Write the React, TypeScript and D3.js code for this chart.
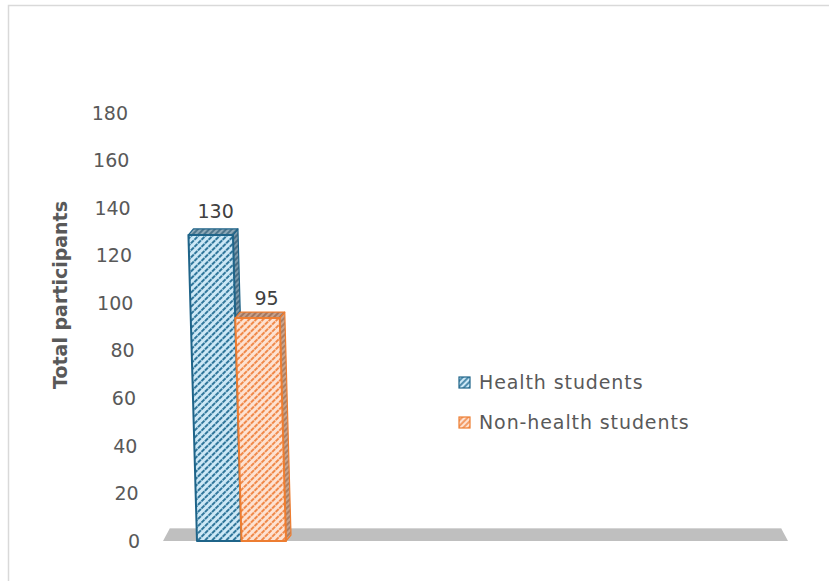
import React from "react";
import * as d3 from "d3";

const seriesNames = ["Health students", "Non-health students"];
const seriesValues = [130, 95];
const yTicks = [0, 20, 40, 60, 80, 100, 120, 140, 160, 180];
const yTitle = "Total participants";

const FONT = "'DejaVu Sans', sans-serif";
const W = 829;
const H = 581;
const Y0 = 541;
const K = 0.028; // perspective slant
const DX = 5;
const DY = -6;

const colors = [
  { bg: "#cde8f6", line: "#1f6a91", edge: "#1f6489", sideBg: "#7e9aab", sideLine: "#2a536b", topBg: "#8fa9b8", topLine: "#2b5a74" },
  { bg: "#fde2d2", line: "#ef7f3a", edge: "#ed7d31", sideBg: "#c8a590", sideLine: "#9a6a4d", topBg: "#c4a08b", topLine: "#8e6049" },
];

export default function App() {
  const y = d3.scaleLinear().domain([0, 180]).range([Y0, 113]);
  const x = d3.scaleBand<string>().domain(seriesNames).range([197, 286]).padding(0);
  const plotLeft = 163;
  const plotRight = 788;
  const sk = (px: number, py: number) => px - K * (Y0 - py);
  const pt = (px: number, py: number) => `${sk(px, py)},${py}`;
  const pts = (arr: [number, number][]) => arr.map(([a, b]) => `${a},${b}`).join(" ");

  const floorTop = y(0) - 13;
  const floor: [number, number][] = [
    [plotLeft, y(0)],
    [plotRight, y(0)],
    [plotRight - 7, floorTop],
    [plotLeft + 7, floorTop],
  ];

  return (
    <svg
      width={W}
      height={H}
      style={{ position: "absolute", left: 0, top: 0, background: "#fff", display: "block" }}
    >
      <defs>
        {colors.map((c, i) => (
          <React.Fragment key={i}>
            <pattern id={`front${i}`} width={5} height={5} patternUnits="userSpaceOnUse" patternTransform="rotate(45)">
              <rect width={5} height={5} fill={c.bg} />
              <line x1={2} y1={0} x2={2} y2={5} stroke={c.line} strokeWidth={1.8} strokeDasharray="2.2 0.8" />
            </pattern>
            <pattern id={`side${i}`} width={4} height={4} patternUnits="userSpaceOnUse" patternTransform="rotate(45)">
              <rect width={4} height={4} fill={c.sideBg} />
              <line x1={2} y1={0} x2={2} y2={4} stroke={c.sideLine} strokeWidth={1.3} />
            </pattern>
            <pattern id={`top${i}`} width={4} height={4} patternUnits="userSpaceOnUse" patternTransform="rotate(45)">
              <rect width={4} height={4} fill={c.topBg} />
              <line x1={2} y1={0} x2={2} y2={4} stroke={c.topLine} strokeWidth={1.3} />
            </pattern>
            <pattern id={`leg${i}`} width={4} height={4} patternUnits="userSpaceOnUse" patternTransform="rotate(45)">
              <rect width={4} height={4} fill={c.bg} />
              <line x1={2} y1={0} x2={2} y2={4} stroke={c.line} strokeWidth={1.4} />
            </pattern>
          </React.Fragment>
        ))}
      </defs>

      {/* chart border */}
      <rect x={8.5} y={5.5} width={1000} height={1000} fill="none" stroke="#d9d9d9" strokeWidth={1.5} />

      {/* y tick labels */}
      {yTicks.map((t) => (
        <text
          key={t}
          x={sk(140, y(t))}
          y={y(t)}
          dy="0.35em"
          textAnchor="end"
          fontFamily={FONT}
          fontSize={19}
          fill="#595959"
        >
          {t}
        </text>
      ))}

      {/* y title */}
      <text
        transform={`translate(67,295) rotate(-90)`}
        textAnchor="middle"
        fontFamily={FONT}
        fontSize={19}
        fontWeight="bold"
        fill="#595959"
      >
        {yTitle}
      </text>

      {/* floor */}
      <polygon points={pts(floor)} fill="#bfbfbf" />
      <line x1={plotLeft + 7} x2={plotRight - 7} y1={floorTop + 0.5} y2={floorTop + 0.5} stroke="#d4d4d4" strokeWidth={1} />

      {/* bars */}
      {seriesNames.map((s, i) => {
        const v = seriesValues[i];
        const x0 = x(s)!;
        const x1 = x0 + x.bandwidth();
        const yt = y(v) + 3;
        const yb = y(0);
        const c = colors[i];
        const front = `${pt(x0, yb)} ${pt(x1, yb)} ${pt(x1, yt)} ${pt(x0, yt)}`;
        const top = `${pt(x0, yt)} ${pt(x1, yt)} ${sk(x1, yt) + DX},${yt + DY} ${sk(x0, yt) + DX},${yt + DY}`;
        const side = `${pt(x1, yb)} ${pt(x1, yt)} ${sk(x1, yt) + DX},${yt + DY} ${sk(x1, yb) + DX},${yb + DY}`;
        const cx = (sk(x0, yt) + sk(x1, yt)) / 2 + DX;
        return (
          <g key={s}>
            <polygon points={side} fill={`url(#side${i})`} stroke={c.edge} strokeWidth={1.2} strokeLinejoin="round" />
            <polygon points={top} fill={`url(#top${i})`} stroke={c.edge} strokeWidth={1.2} strokeLinejoin="round" />
            <polygon points={front} fill={`url(#front${i})`} stroke={c.edge} strokeWidth={2} strokeLinejoin="round" />
            <text
              x={cx + i * 4}
              y={y(v) - 14 + i * 4}
              textAnchor="middle"
              fontFamily={FONT}
              fontSize={19}
              fill="#404040"
            >
              {v}
            </text>
          </g>
        );
      })}

      {/* legend */}
      {seriesNames.map((s, i) => {
        const ly = 382 + i * 40;
        return (
          <g key={s}>
            <rect x={459} y={ly - 5} width={11} height={11} fill={`url(#leg${i})`} stroke={colors[i].edge} strokeWidth={1.2} />
            <text x={479} y={ly} dy="0.35em" fontFamily={FONT} fontSize={19} letterSpacing={0.9} fill="#595959">
              {s}
            </text>
          </g>
        );
      })}
    </svg>
  );
}
